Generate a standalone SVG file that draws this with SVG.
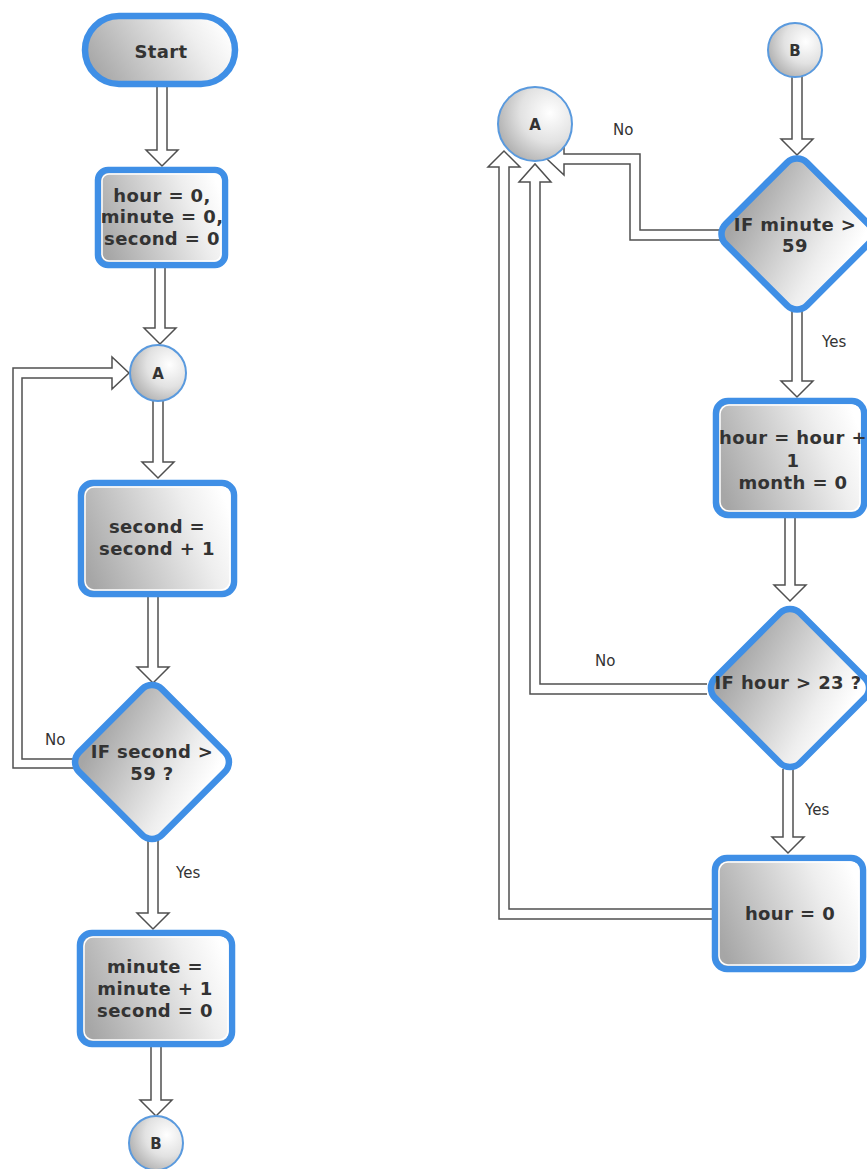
<svg xmlns="http://www.w3.org/2000/svg" width="867" height="1169" viewBox="0 0 867 1169">
<defs>
<linearGradient id="g" x1="0" y1="0.65" x2="1" y2="0.35">
<stop offset="0" stop-color="#a6a6a6"/>
<stop offset="0.75" stop-color="#eeeeee"/>
<stop offset="1" stop-color="#ffffff"/>
</linearGradient>
<radialGradient id="gc" cx="0.7" cy="0.35" r="0.8">
<stop offset="0" stop-color="#ffffff"/>
<stop offset="0.5" stop-color="#e2e2e2"/>
<stop offset="1" stop-color="#a8a8a8"/>
</radialGradient>
<style>
.box{fill:url(#g);stroke:#3f8fe6;stroke-width:6.5}
.inner{fill:none;stroke:#ffffff;stroke-width:1.5}
.circ{fill:url(#gc);stroke:#5a9ade;stroke-width:2}
.arr{fill:#ffffff;stroke:#505050;stroke-width:1.5;stroke-linejoin:miter}
.t{font-family:"DejaVu Sans","Liberation Sans",sans-serif;font-weight:bold;font-size:18px;letter-spacing:0.4px;fill:#333333;text-anchor:middle}
.c{font-family:"DejaVu Sans","Liberation Sans",sans-serif;font-weight:bold;font-size:15px;fill:#333333;text-anchor:middle}
.l{font-family:"DejaVu Sans","Liberation Sans",sans-serif;font-size:15px;fill:#333333}
</style>
</defs>
<rect width="867" height="1169" fill="#ffffff"/>

<g id="connectors">
<polyline class="arr" points="157,86 157,150 146,150 162,166 178,150 167,150 167,86"/>
<polyline class="arr" points="155,267 155,328 144,328 160,344 176,328 165,328 165,267"/>
<polyline class="arr" points="153,401 153,462 142,462 158,478 174,462 163,462 163,401"/>
<polyline class="arr" points="148,596 148,667 137,667 153,683 169,667 158,667 158,596"/>
<polyline class="arr" points="148,840 148,913 137,913 153,929 169,913 158,913 158,840"/>
<polyline class="arr" points="151,1046 151,1100 140,1100 156,1116 172,1100 161,1100 161,1046"/>
<polyline class="arr" points="75,768 13,768 13,368 112,368 112,357 129,373 112,389 112,378 22,378 22,759 75,759"/>
<polyline class="arr" points="792,76 792,139 781,139 797,155 813,139 802,139 802,76"/>
<polyline class="arr" points="792,311 792,381 781,381 797,397 813,381 802,381 802,311"/>
<polyline class="arr" points="785,517 785,585 774,585 790,601 806,585 795,585 795,517"/>
<polyline class="arr" points="783,769 783,837 772,837 788,853 804,837 793,837 793,769"/>
<polyline class="arr" points="720,230 640,230 640,154 564,154 564,143 547,159 564,175 564,164 630,164 630,240 720,240"/>
<polyline class="arr" points="714,919 499,919 499,167 488,167 504,151 520,167 509,167 509,909 714,909"/>
<polyline class="arr" points="707,694 530,694 530,182 519,182 535,164 551,182 540,182 540,684 707,684"/>
</g>

<g id="start">
<rect class="box" x="85" y="16" width="150" height="68" rx="34"/>
<text class="t" x="161" y="58">Start</text>
</g>

<g id="init">
<rect class="box" x="98" y="170" width="127" height="95" rx="10"/>
<rect class="inner" x="102" y="174" width="119" height="87" rx="7"/>
<text class="t" x="162" y="202">hour = 0,</text>
<text class="t" x="162" y="223">minute = 0,</text>
<text class="t" x="162" y="245">second = 0</text>
</g>

<g id="connA1">
<circle class="circ" cx="158" cy="373" r="28"/>
<text class="c" x="158" y="379">A</text>
</g>

<g id="incSecond">
<rect class="box" x="81" y="483" width="153" height="111" rx="12"/>
<rect class="inner" x="85" y="487" width="145" height="103" rx="9"/>
<text class="t" x="157" y="533">second =</text>
<text class="t" x="157" y="555">second + 1</text>
</g>

<g id="ifSecond">
<rect class="box" x="-58.5" y="-58.5" width="117" height="117" rx="14" transform="translate(152 762) rotate(45)"/>
<text class="t" x="152" y="758">IF second &gt;</text>
<text class="t" x="152" y="780">59 ?</text>
</g>

<g id="incMinute">
<rect class="box" x="80" y="933" width="152" height="111" rx="12"/>
<rect class="inner" x="84" y="937" width="144" height="103" rx="9"/>
<text class="t" x="155" y="973">minute =</text>
<text class="t" x="155" y="995">minute + 1</text>
<text class="t" x="155" y="1017">second = 0</text>
</g>

<g id="connB1">
<circle class="circ" cx="156" cy="1143" r="27"/>
<text class="c" x="156" y="1149">B</text>
</g>

<g id="connB2">
<circle class="circ" cx="795" cy="50" r="27"/>
<text class="c" x="795" y="56">B</text>
</g>

<g id="connA2">
<circle class="circ" cx="535" cy="124" r="37"/>
<text class="c" x="535" y="130">A</text>
</g>

<g id="ifMinute">
<rect class="box" x="-57.5" y="-57.5" width="115" height="115" rx="14" transform="translate(797 234) rotate(45)"/>
<text class="t" x="795" y="231">IF minute &gt;</text>
<text class="t" x="795" y="252">59</text>
</g>

<g id="incHour">
<rect class="box" x="716" y="401" width="148" height="114" rx="12"/>
<rect class="inner" x="720" y="405" width="140" height="106" rx="9"/>
<text class="t" x="793" y="444">hour = hour +</text>
<text class="t" x="793" y="467">1</text>
<text class="t" x="793" y="489">month = 0</text>
</g>

<g id="ifHour">
<rect class="box" x="-60" y="-60" width="120" height="120" rx="14" transform="translate(790 688) rotate(45)"/>
<text class="t" x="788" y="689">IF hour &gt; 23 ?</text>
</g>

<g id="resetHour">
<rect class="box" x="715" y="858" width="148" height="111" rx="12"/>
<rect class="inner" x="719" y="862" width="140" height="103" rx="9"/>
<text class="t" x="790" y="920">hour = 0</text>
</g>

<g id="labels">
<text class="l" x="45" y="745">No</text>
<text class="l" x="176" y="878">Yes</text>
<text class="l" x="613" y="135">No</text>
<text class="l" x="822" y="347">Yes</text>
<text class="l" x="595" y="666">No</text>
<text class="l" x="805" y="815">Yes</text>
</g>
</svg>
